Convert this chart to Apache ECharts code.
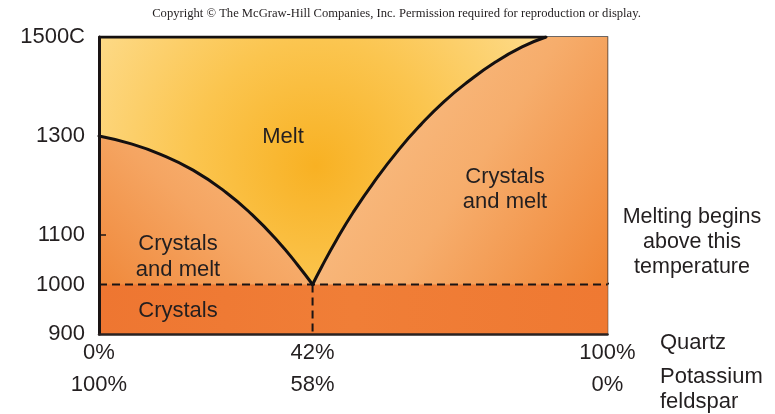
<!DOCTYPE html>
<html><head><meta charset="utf-8">
<script src="https://cdn.jsdelivr.net/npm/echarts@6/dist/echarts.min.js"></script>
<style>html,body{margin:0;padding:0;background:#fff}#c{width:775px;height:414px}</style>
</head><body><div id="c"></div>
<script>
// Temperature axis ticks (°C) and composition ticks (%)
const yTicks = [900, 1000, 1100, 1300, 1500];
const yInnerTicks = [1100];
const quartzTicks = [0, 42, 100];
const feldsparTicks = [0, 58, 100];
// Liquidus curves: [quartz %, temperature]
const leftLiquidus = [[0,1300],[6.0,1285],[12.1,1263],[18.5,1231],[25.0,1186],[30.1,1141],[35.3,1086],[39.1,1039]];
const eutectic = [42, 1000];
const rightLiquidus = [[43.8,1036],[46.7,1090],[50.0,1146],[54.0,1206],[59.0,1273],[63.3,1323],[67.8,1369],[72.6,1410],[77.9,1449],[83.2,1480],[87.9,1500]];
const tMin = 900, tMax = 1500;
const solidus = 1000;
const leaderEnd = [103, 1030];

const FONT = 'Liberation Sans';
const INK = '#231f20';
const chart = echarts.init(document.getElementById('c'), null, {renderer: 'canvas'});

const leftBranch = leftLiquidus.concat([eutectic]);
const rightBranch = [eutectic].concat(rightLiquidus);
const liquidus = leftLiquidus.concat([eutectic], rightLiquidus);
const meltTopEnd = rightLiquidus[rightLiquidus.length - 1];
const LG = echarts.graphic.LinearGradient, RG = echarts.graphic.RadialGradient;

chart.setOption({
  animation: false,
  backgroundColor: '#ffffff',
  grid: {left: 99, right: 167.5, top: 37, bottom: 80, show: true, borderColor: '#3d3431', borderWidth: 1.5, backgroundColor: 'transparent'},
  xAxis: [
    {type: 'value', min: 0, max: 100, position: 'bottom', z: 10,
     axisLine: {show: true, lineStyle: {color: '#2a2221', width: 2.5}},
     axisTick: {show: false}, splitLine: {show: false},
     axisLabel: {customValues: quartzTicks, formatter: '{value}%', margin: 8, fontSize: 22, fontFamily: FONT, color: INK}},
    {type: 'value', min: 0, max: 100, position: 'bottom', offset: 32, inverse: true,
     axisLine: {show: false}, axisTick: {show: false}, splitLine: {show: false},
     axisLabel: {customValues: feldsparTicks, formatter: '{value}%', margin: 8, fontSize: 22, fontFamily: FONT, color: INK}}
  ],
  yAxis: {type: 'value', min: tMin, max: tMax, z: 10,
    axisLine: {show: true, lineStyle: {color: '#1a1414', width: 3}},
    axisTick: {show: true, inside: true, length: 7, customValues: yInnerTicks, lineStyle: {color: '#1a1414', width: 1.5}},
    splitLine: {show: false},
    axisLabel: {customValues: yTicks, margin: 14, fontSize: 22, fontFamily: FONT, color: INK,
      formatter: v => v === tMax ? v + 'C' : String(v)}},
  series: [
    {type: 'line', name: 'crystals and melt (K-feldspar side)', data: [[0, tMax], [eutectic[0], tMax]], symbol: 'none', silent: true, z: 1,
     lineStyle: {width: 0}, areaStyle: {origin: 'start', opacity: 1,
       color: new LG(1, 0.25, 0, 1, [{offset: 0, color: '#f9c085'}, {offset: 0.5, color: '#f5a562'}, {offset: 1, color: '#ee802f'}])}},
    {type: 'line', name: 'crystals and melt (quartz side)', data: [[eutectic[0], tMax], [100, tMax]], symbol: 'none', silent: true, z: 1,
     lineStyle: {width: 0}, areaStyle: {origin: 'start', opacity: 1,
       color: new LG(0, 0.3, 1, 0.95, [{offset: 0, color: '#f9c088'}, {offset: 0.45, color: '#f6ad6c'}, {offset: 1, color: '#ef812f'}])}},
    {type: 'line', name: 'crystals', data: [[0, solidus], [100, solidus]], symbol: 'none', silent: true, z: 3,
     lineStyle: {color: '#1a1414', width: 2, type: [8, 5]},
     areaStyle: {origin: 'start', opacity: 1,
       color: new LG(0, 0, 1, 0, [{offset: 0, color: '#ee7631'}, {offset: 0.5, color: '#f07e37'}, {offset: 1, color: '#ef7932'}])}},
    {type: 'line', name: 'melt', data: liquidus, symbol: 'none', silent: true, z: 4,
     lineStyle: {width: 0},
     areaStyle: {origin: 'end', opacity: 1,
       color: new RG(0.485, 0.52, 1.0, [{offset: 0, color: '#f8b123'}, {offset: 0.5, color: '#fbc54f'}, {offset: 1, color: '#fdd985'}])}},
    {type: 'line', name: 'liquidus (left)', data: leftBranch, symbol: 'none', silent: true, z: 5, smooth: 0.5,
     lineStyle: {color: '#141010', width: 3, cap: 'round'}},
    {type: 'line', name: 'liquidus (right)', data: rightBranch, symbol: 'none', silent: true, z: 5, smooth: 0.5,
     lineStyle: {color: '#141010', width: 3, cap: 'round'}},
    {type: 'line', name: 'melt top', data: [[0, tMax], meltTopEnd], symbol: 'none', silent: true, z: 5,
     lineStyle: {color: '#141010', width: 3}},
    {type: 'line', name: 'eutectic', data: [eutectic, [eutectic[0], tMin]], symbol: 'none', silent: true, z: 5,
     lineStyle: {color: '#1a1414', width: 2, type: [8, 5]}},
    {type: 'line', name: 'leader', data: [[100, solidus], leaderEnd], symbol: 'none', silent: true, z: 5, clip: false,
     lineStyle: {color: '#1a1414', width: 1.3}}
  ],
  graphic: [
    {type: 'text', x: 396.5, y: 14, style: {text: 'Copyright © The McGraw-Hill Companies, Inc. Permission required for reproduction or display.', font: '12.6px "Liberation Serif"', fill: '#231f20', align: 'center', verticalAlign: 'middle'}},
    {type: 'text', x: 283, y: 137, z: 10, style: {text: 'Melt', font: '22px "' + FONT + '"', fill: INK, align: 'center', verticalAlign: 'middle'}},
    {type: 'text', x: 178, y: 257, z: 10, style: {text: 'Crystals\nand melt', font: '22px "' + FONT + '"', lineHeight: 26, fill: INK, align: 'center', verticalAlign: 'middle'}},
    {type: 'text', x: 505, y: 189, z: 10, style: {text: 'Crystals\nand melt', font: '22px "' + FONT + '"', lineHeight: 25, fill: INK, align: 'center', verticalAlign: 'middle'}},
    {type: 'text', x: 178, y: 311, z: 10, style: {text: 'Crystals', font: '22px "' + FONT + '"', fill: INK, align: 'center', verticalAlign: 'middle'}},
    {type: 'text', x: 692, y: 242, z: 10, style: {text: 'Melting begins\nabove this\ntemperature', font: '21.5px "' + FONT + '"', lineHeight: 25, fill: INK, align: 'center', verticalAlign: 'middle'}},
    {type: 'text', x: 660, y: 343, z: 10, style: {text: 'Quartz', font: '22px "' + FONT + '"', fill: INK, align: 'left', verticalAlign: 'middle'}},
    {type: 'text', x: 660, y: 389.5, z: 10, style: {text: 'Potassium\nfeldspar', font: '22px "' + FONT + '"', lineHeight: 25, fill: INK, align: 'left', verticalAlign: 'middle'}}
  ]
});
</script></body></html>
